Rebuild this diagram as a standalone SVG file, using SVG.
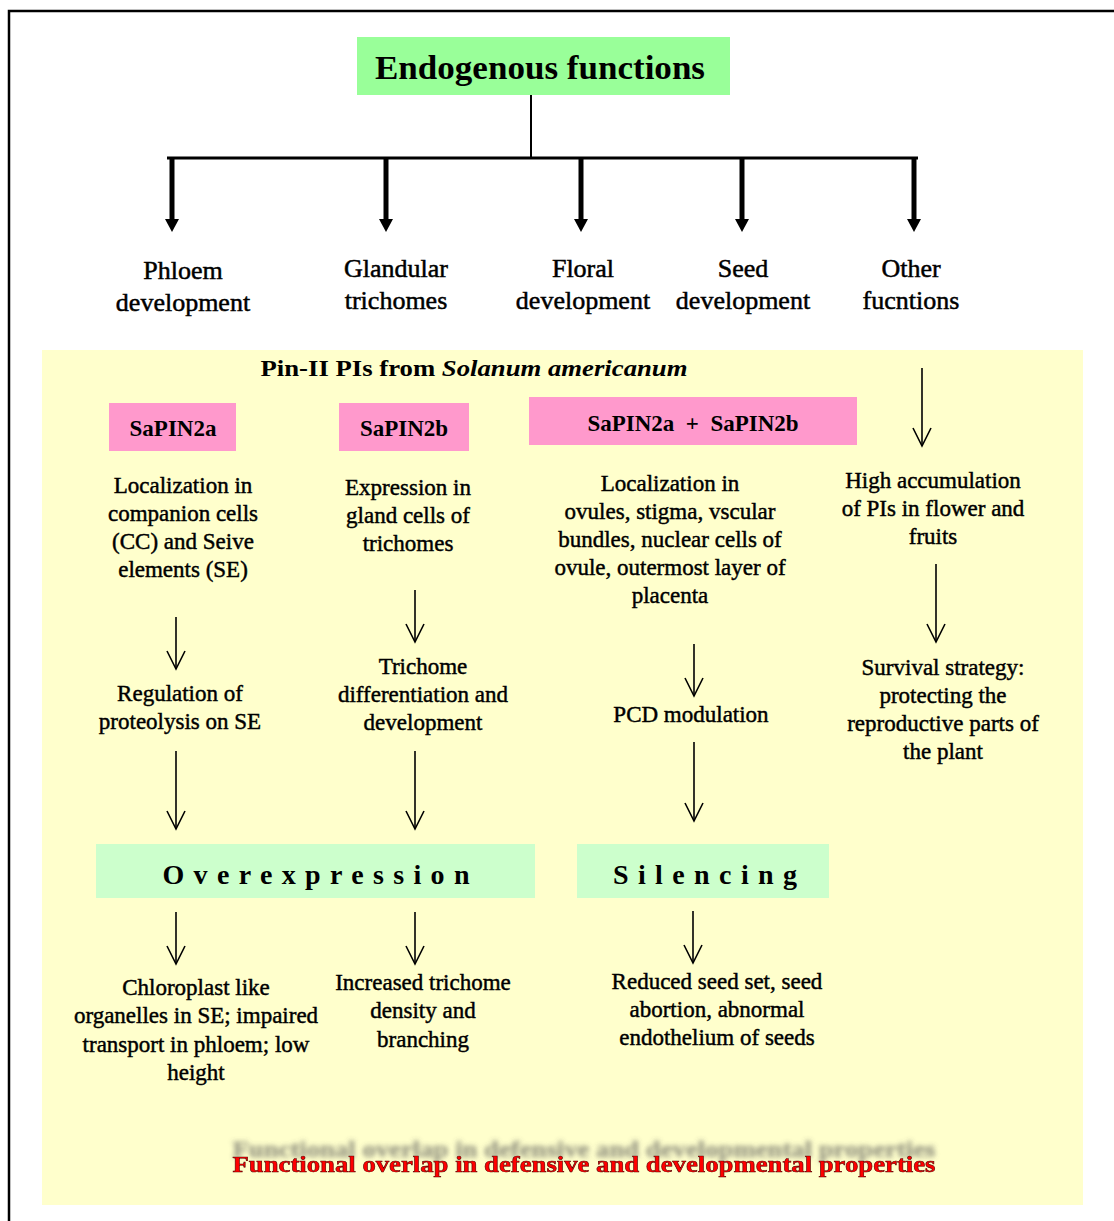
<svg xmlns="http://www.w3.org/2000/svg" width="1114" height="1221" viewBox="0 0 1114 1221">
<style>
  .t { font-family: "Liberation Serif", "Times New Roman", serif; font-size: 23px; fill: #000; text-anchor: middle; stroke: #000; stroke-width: 0.45; }
  .top { font-size: 26px; stroke-width: 0.5; }
  .tb { font-family: "Liberation Serif", "Times New Roman", serif; font-weight: bold; fill: #000; text-anchor: middle; }
  .thin { stroke: #000; stroke-width: 1.6; fill: none; marker-end: url(#vhead); }
  .thick { stroke: #000; stroke-width: 5; fill: none; marker-end: url(#tri); }
  .pink { fill: #FF99CC; }
  .mint { fill: #CCFFCC; }
</style>
<defs>
  <marker id="vhead" markerUnits="userSpaceOnUse" viewBox="-20 -12 24 24" refX="0" refY="0" markerWidth="24" markerHeight="24" orient="auto">
    <path d="M-18,-9 L0,0 L-18,9" fill="none" stroke="#000" stroke-width="1.6"/>
  </marker>
  <marker id="tri" markerUnits="userSpaceOnUse" viewBox="-2 -10 16 20" refX="0" refY="0" markerWidth="16" markerHeight="20" orient="auto">
    <path d="M-1,-7 L12,0 L-1,7 z" fill="#000"/>
  </marker>
  <filter id="ghost" x="-5%" y="-150%" width="110%" height="300%">
    <feFlood flood-color="#555" flood-opacity="0.6" result="c"/>
    <feComposite in="c" in2="SourceAlpha" operator="in" result="s"/>
    <feOffset in="s" dy="-15" result="o"/>
    <feGaussianBlur in="o" stdDeviation="2.5" result="b"/>
    <feMerge><feMergeNode in="b"/><feMergeNode in="SourceGraphic"/></feMerge>
  </filter>
</defs>
<rect width="1114" height="1221" fill="#fff"/>
<path d="M9,1221 L9,11 L1114,11" fill="none" stroke="#000" stroke-width="2.5"/>
<rect id="panel" x="42" y="350" width="1041" height="855" fill="#FFFFCC"/>

<g id="title">
  <rect x="357" y="37" width="373" height="58" fill="#99FF99"/>
  <text class="tb" x="540" y="79" font-size="33" textLength="330" lengthAdjust="spacingAndGlyphs">Endogenous functions</text>
</g>

<g id="connectors">
  <line x1="531" y1="95" x2="531" y2="158" stroke="#000" stroke-width="2"/>
  <line x1="167" y1="158" x2="918" y2="158" stroke="#000" stroke-width="3"/>
  <line class="thick" x1="172" y1="158" x2="172" y2="220"/>
  <line class="thick" x1="386" y1="158" x2="386" y2="220"/>
  <line class="thick" x1="581" y1="158" x2="581" y2="220"/>
  <line class="thick" x1="742" y1="158" x2="742" y2="220"/>
  <line class="thick" x1="914" y1="158" x2="914" y2="220"/>
  <line class="thin" x1="176" y1="617" x2="176" y2="669"/>
  <line class="thin" x1="176" y1="751" x2="176" y2="829"/>
  <line class="thin" x1="176" y1="912" x2="176" y2="964"/>
  <line class="thin" x1="415" y1="590" x2="415" y2="642"/>
  <line class="thin" x1="415" y1="751" x2="415" y2="829"/>
  <line class="thin" x1="415" y1="912" x2="415" y2="964"/>
  <line class="thin" x1="694" y1="644" x2="694" y2="696"/>
  <line class="thin" x1="694" y1="742" x2="694" y2="821"/>
  <line class="thin" x1="693" y1="911" x2="693" y2="963"/>
  <line class="thin" x1="922" y1="368" x2="922" y2="446"/>
  <line class="thin" x1="936" y1="564" x2="936" y2="642"/>
</g>

<g id="phloem"><text class="t top" x="183" y="279">Phloem</text><text class="t top" x="183" y="311">development</text></g>
<g id="glandular"><text class="t top" x="396" y="277">Glandular</text><text class="t top" x="396" y="309">trichomes</text></g>
<g id="floral"><text class="t top" x="583" y="277">Floral</text><text class="t top" x="583" y="309">development</text></g>
<g id="seed"><text class="t top" x="743" y="277">Seed</text><text class="t top" x="743" y="309">development</text></g>
<g id="other"><text class="t top" x="911" y="277">Other</text><text class="t top" x="911" y="309">fucntions</text></g>

<g id="subtitle">
  <text class="tb" x="474" y="376" font-size="24" textLength="427" lengthAdjust="spacingAndGlyphs">Pin-II PIs from <tspan font-style="italic">Solanum americanum</tspan></text>
</g>

<g id="sapin2a"><rect class="pink" x="109" y="403" width="127" height="48"/><text class="tb" x="173" y="436" font-size="23">SaPIN2a</text></g>
<g id="sapin2b"><rect class="pink" x="339" y="403" width="130" height="48"/><text class="tb" x="404" y="436" font-size="23">SaPIN2b</text></g>
<g id="sapin2ab"><rect class="pink" x="529" y="397" width="328" height="48"/><text class="tb" x="693" y="431" font-size="23" xml:space="preserve">SaPIN2a  +  SaPIN2b</text></g>

<g id="c1-loc">
  <text class="t" x="183" y="493">Localization in</text>
  <text class="t" x="183" y="521">companion cells</text>
  <text class="t" x="183" y="549">(CC) and Seive</text>
  <text class="t" x="183" y="577">elements (SE)</text>
</g>
<g id="c1-reg">
  <text class="t" x="180" y="701">Regulation of</text>
  <text class="t" x="180" y="729">proteolysis on SE</text>
</g>
<g id="c2-exp">
  <text class="t" x="408" y="495">Expression in</text>
  <text class="t" x="408" y="523">gland cells of</text>
  <text class="t" x="408" y="551">trichomes</text>
</g>
<g id="c2-tri">
  <text class="t" x="423" y="674">Trichome</text>
  <text class="t" x="423" y="702">differentiation and</text>
  <text class="t" x="423" y="730">development</text>
</g>
<g id="c3-loc">
  <text class="t" x="670" y="491">Localization in</text>
  <text class="t" x="670" y="519">ovules, stigma, vscular</text>
  <text class="t" x="670" y="547">bundles, nuclear cells of</text>
  <text class="t" x="670" y="575">ovule, outermost layer of</text>
  <text class="t" x="670" y="603">placenta</text>
</g>
<g id="c3-pcd"><text class="t" x="691" y="722">PCD modulation</text></g>
<g id="c4-high">
  <text class="t" x="933" y="488">High accumulation</text>
  <text class="t" x="933" y="516">of PIs in flower and</text>
  <text class="t" x="933" y="544">fruits</text>
</g>
<g id="c4-surv">
  <text class="t" x="943" y="675">Survival strategy:</text>
  <text class="t" x="943" y="703">protecting the</text>
  <text class="t" x="943" y="731">reproductive parts of</text>
  <text class="t" x="943" y="759">the plant</text>
</g>

<g id="overexpression"><rect class="mint" x="96" y="844" width="439" height="54"/><text class="tb" x="316" y="884" font-size="28" textLength="307" lengthAdjust="spacing">Overexpression</text></g>
<g id="silencing"><rect class="mint" x="577" y="844" width="252" height="54"/><text class="tb" x="705" y="884" font-size="28" textLength="184" lengthAdjust="spacing">Silencing</text></g>

<g id="c1-out">
  <text class="t" x="196" y="995">Chloroplast like</text>
  <text class="t" x="196" y="1023">organelles in SE; impaired</text>
  <text class="t" x="196" y="1052">transport in phloem; low</text>
  <text class="t" x="196" y="1080">height</text>
</g>
<g id="c2-out">
  <text class="t" x="423" y="990">Increased trichome</text>
  <text class="t" x="423" y="1018">density and</text>
  <text class="t" x="423" y="1047">branching</text>
</g>
<g id="c3-out">
  <text class="t" x="717" y="989">Reduced seed set, seed</text>
  <text class="t" x="717" y="1017">abortion, abnormal</text>
  <text class="t" x="717" y="1045">endothelium of seeds</text>
</g>

<g id="overlap">
  <text class="tb" x="584" y="1172" font-size="24" style="fill:#FF0000" stroke="#550000" stroke-width="0.6" filter="url(#ghost)" textLength="703" lengthAdjust="spacingAndGlyphs">Functional overlap in defensive and developmental properties</text>
</g>
</svg>
